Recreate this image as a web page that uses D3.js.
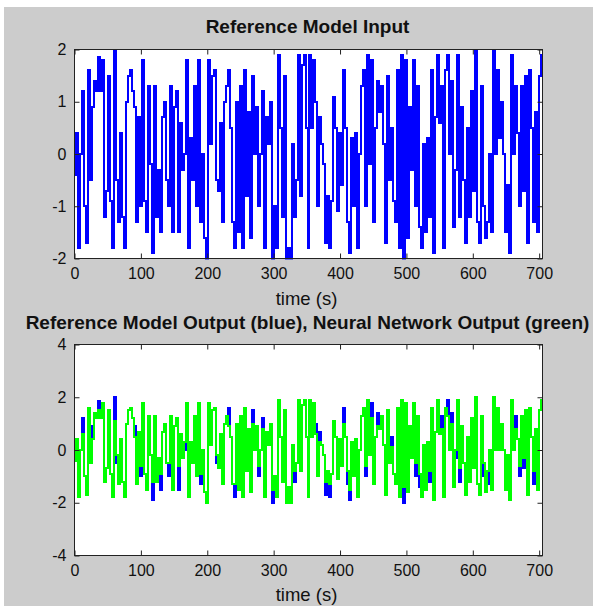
<!DOCTYPE html>
<html>
<head>
<meta charset="utf-8">
<script src="https://d3js.org/d3.v7.min.js"></script>
<style>
  body { margin: 0; background: white; }
  text { font-family: "Liberation Sans", Arial, sans-serif; fill: #111; }
</style>
</head>
<body>
<script>
const width = 593;
const height = 606;

// hold time of each level of the reference input (s)
const holdTime = 3;
const timeMax = 705;

const xTicks = [0, 100, 200, 300, 400, 500, 600, 700];
const yTicksTop = [-2, -1, 0, 1, 2];
const yTicksBottom = [-4, -2, 0, 2, 4];

// reference model input, one level per hold interval
const refInput = [
  -0.4, 0.4, -1.8, 0.0, 1.2, -1.0, -1.7, 1.6, -0.5, 0.9, 1.4, 1.2, 1.85, 1.2, 1.8, -1.2, -0.7, 1.5, -0.9, -1.8,
  2.0, -0.5, -1.3, 0.4, -1.2, -1.8, 1.0, 1.5, 1.6, 1.2, 0.9, -1.3, 0.7, -1.0, 1.8, -0.9, -1.5, 1.3, -0.2,
  -1.9, 1.3, -1.2, -0.3, -1.5, 0.7, 1.0, -0.5, -1.0, 1.3, -1.5, 0.9, 1.2, -1.5, 0.6, -0.3, 0.0, 1.8, -1.8, 0.3,
  -0.5, 1.3, -1.0, 1.8, -1.3, 0.0, -1.6, -2.0, 1.8, 0.2, 1.5, 1.6, -0.5, -0.7, 0.6, -1.3, 1.0, 1.3, 1.6,
  0.5, -1.3, -1.8, 1.0, -1.5, 1.3, -1.8, 1.6, -0.8, 0.8, -1.6, 1.5, 0.0, 0.9, -1.0, 0.0, 1.2, -1.8, 0.7, 0.2,
  1.0, -2.0, -1.0, -1.8, 1.9, 0.5, -1.2, 1.5, -2.0, -1.8, -2.0, 0.2, -1.2, -0.5, 1.9, -0.8, 1.7, 1.9, 0.5,
  -1.8, 1.9, 0.5, 1.8, 1.0, -1.0, 0.7, 0.2, -0.2, -1.7, -0.8, -1.8, -0.9, 1.1, 0.5, -1.1, 0.4, -0.6, 1.6, 0.5,
  -1.3, -1.9, 0.3, -1.0, 0.4, -1.8, 0.0, 1.3, 1.6, -1.0, 1.9, -0.2, 1.8, -1.3, 0.5, 1.4, 0.8, 1.3, 0.2,
  -1.7, 1.5, -0.5, 0.5, -0.9, -1.3, 1.6, -1.8, 1.9, -2.0, 1.8, -1.6, 0.9, -0.3, 1.8, -1.0, 1.3, -1.4, -1.8, 0.2,
  -1.5, 0.3, -1.2, 1.6, -1.9, 0.7, 1.9, 0.6, 1.3, -1.8, 1.6, 1.9, 0.0, 1.4, -1.4, -0.3, 1.9, -1.2, 0.9,
  -0.5, -1.7, 0.5, -1.2, 1.2, -0.7, 2.0, -1.3, -1.7, 1.3, -1.0, -1.6, -1.3, 0.0, -1.5, 2.0, 0.0, 1.6, 0.3, 1.0,
  0.0, -1.5, -0.6, -1.9, 1.9, 0.0, 1.3, 0.4, -1.0, 1.3, -0.7, 1.5, -1.7, 1.6, 0.5, -1.3, 0.8, -1.5, 1.5, 1.9
];

// reference model output (blue) follows the input levels
const refOutput = [
  -0.4, 0.4, -1.8, 0.0, 1.2, -1.0, -1.7, 1.6, -0.5, 0.9, 1.4, 1.2, 1.85, 1.2, 1.8, -1.2, -0.7, 1.5, -0.9, -1.8,
  2.0, -0.5, -1.3, 0.4, -1.2, -1.8, 1.0, 1.5, 1.6, 1.2, 0.9, -1.3, 0.7, -1.0, 1.8, -0.9, -1.5, 1.3, -0.2,
  -1.9, 1.3, -1.2, -0.3, -1.5, 0.7, 1.0, -0.5, -1.0, 1.3, -1.5, 0.9, 1.2, -1.5, 0.6, -0.3, 0.0, 1.8, -1.8, 0.3,
  -0.5, 1.3, -1.0, 1.8, -1.3, 0.0, -1.6, -2.0, 1.8, 0.2, 1.5, 1.6, -0.5, -0.7, 0.6, -1.3, 1.0, 1.3, 1.6,
  0.5, -1.3, -1.8, 1.0, -1.5, 1.3, -1.8, 1.6, -0.8, 0.8, -1.6, 1.5, 0.0, 0.9, -1.0, 0.0, 1.2, -1.8, 0.7, 0.2,
  1.0, -2.0, -1.0, -1.8, 1.9, 0.5, -1.2, 1.5, -2.0, -1.8, -2.0, 0.2, -1.2, -0.5, 1.9, -0.8, 1.7, 1.9, 0.5,
  -1.8, 1.9, 0.5, 1.8, 1.0, -1.0, 0.7, 0.2, -0.2, -1.7, -0.8, -1.8, -0.9, 1.1, 0.5, -1.1, 0.4, -0.6, 1.6, 0.5,
  -1.3, -1.9, 0.3, -1.0, 0.4, -1.8, 0.0, 1.3, 1.6, -1.0, 1.9, -0.2, 1.8, -1.3, 0.5, 1.4, 0.8, 1.3, 0.2,
  -1.7, 1.5, -0.5, 0.5, -0.9, -1.3, 1.6, -1.8, 1.9, -2.0, 1.8, -1.6, 0.9, -0.3, 1.8, -1.0, 1.3, -1.4, -1.8, 0.2,
  -1.5, 0.3, -1.2, 1.6, -1.9, 0.7, 1.9, 0.6, 1.3, -1.8, 1.6, 1.9, 0.0, 1.4, -1.4, -0.3, 1.9, -1.2, 0.9,
  -0.5, -1.7, 0.5, -1.2, 1.2, -0.7, 2.0, -1.3, -1.7, 1.3, -1.0, -1.6, -1.3, 0.0, -1.5, 2.0, 0.0, 1.6, 0.3, 1.0,
  0.0, -1.5, -0.6, -1.9, 1.9, 0.0, 1.3, 0.4, -1.0, 1.3, -0.7, 1.5, -1.7, 1.6, 0.5, -1.3, 0.8, -1.5, 1.5, 1.9
];

// neural network output (green), falls a little short at some steps
const nnOutput = [
  -0.4, 0.4, -1.8, 0.0, 0.6, -1.0, -1.7, 1.6, -0.5, 0.4, 1.4, 1.2, 1.5, 1.2, 1.8, -1.2, -0.7, 1.5, -0.9, -1.8,
  1.1, -0.2, -1.3, 0.4, -1.2, -1.8, 1.0, 1.5, 1.6, 1.2, 0.5, -1.3, 0.7, -0.6, 1.8, -0.9, -1.5, 1.3, -0.2,
  -1.2, 1.3, -1.2, -0.3, -0.9, 0.7, 1.0, -0.5, -0.5, 1.3, -1.5, 0.9, 1.2, -0.6, 0.6, -0.3, 0.3, 1.8, -1.8, 0.3,
  -0.5, 1.3, -1.0, 1.8, -0.9, 0.0, -1.6, -2.0, 1.8, 0.2, 1.5, 1.6, -0.2, -0.7, 0.6, -1.3, 1.0, 1.3, 0.9,
  0.5, -1.3, -1.3, 1.0, -1.5, 1.3, -1.8, 1.6, -0.8, 0.8, -1.6, 1.0, 0.0, 0.9, -0.6, 0.0, 0.8, -1.8, 0.7, 0.2,
  1.0, -1.5, -1.0, -1.8, 1.9, 0.5, -1.2, 1.5, -2.0, -1.4, -2.0, 0.2, -0.8, -0.5, 1.9, -0.8, 1.7, 1.9, 0.5,
  -1.8, 1.9, 0.5, 1.8, 0.6, -1.0, 0.3, 0.2, -0.2, -1.2, -0.8, -1.3, -0.9, 1.1, 0.5, -1.1, 0.4, -0.6, 1.0, 0.5,
  -0.8, -1.5, 0.3, -1.0, 0.4, -1.8, 0.0, 1.3, 1.6, -0.6, 1.9, -0.2, 1.2, -1.3, 0.5, 0.9, 0.8, 1.3, 0.2,
  -1.7, 1.5, -0.5, 0.1, -0.9, -1.3, 1.6, -1.8, 1.9, -1.4, 1.8, -1.6, 0.9, -0.3, 1.8, -0.5, 1.3, -0.9, -1.8, 0.2,
  -1.5, 0.3, -0.8, 1.6, -1.9, 0.7, 1.9, 0.6, 0.8, -1.8, 1.6, 1.3, 0.0, 1.0, -1.4, 0.0, 1.9, -0.7, 0.9,
  -0.5, -1.7, 0.5, -1.2, 1.2, -0.7, 2.0, -1.3, -1.7, 1.3, -0.5, -1.6, -0.8, 0.0, -1.5, 2.0, 0.0, 1.6, 0.0, 1.0,
  0.0, -1.5, -0.2, -1.9, 1.9, 0.0, 0.8, 0.4, -0.6, 1.3, -0.3, 1.5, -1.7, 1.6, 0.5, -0.8, 0.8, -1.5, 1.5, 1.9
];

const svg = d3
  .select("body")
  .append("svg")
  .attr("width", width)
  .attr("height", height);

svg.append("rect")
  .attr("x", 4)
  .attr("y", 7)
  .attr("width", width - 4)
  .attr("height", height - 7)
  .attr("fill", "#cccccc");

function toPoints(values) {
  const pts = values.map((v, i) => [i * holdTime, v]);
  pts.push([timeMax, values[values.length - 1]]);
  return pts;
}

function drawPanel(opts) {
  const x = d3.scaleLinear().domain([0, timeMax]).range([opts.left, opts.right]);
  const y = d3.scaleLinear().domain(opts.yDomain).range([opts.bottom, opts.top]);

  const g = svg.append("g");

  g.append("rect")
    .attr("x", opts.left)
    .attr("y", opts.top)
    .attr("width", opts.right - opts.left)
    .attr("height", opts.bottom - opts.top)
    .attr("fill", "white");

  g.append("clipPath")
    .attr("id", opts.id)
    .append("rect")
    .attr("x", opts.left)
    .attr("y", opts.top - 1)
    .attr("width", opts.right - opts.left)
    .attr("height", opts.bottom - opts.top + 2);

  // snap the stairs to whole pixels so overlapping lines stay clean
  const line = d3.line()
    .x(d => Math.round(x(d[0])))
    .y(d => Math.round(y(d[1])))
    .curve(d3.curveStepAfter);

  opts.series.forEach(s => {
    g.append("path")
      .datum(toPoints(s.values))
      .attr("clip-path", `url(#${opts.id})`)
      .attr("fill", "none")
      .attr("stroke", s.color)
      .attr("stroke-width", opts.lineWidth)
      .attr("d", line);
  });

  // inward ticks on all four sides, like a boxed matlab axes
  const tickLen = 5;
  const bottomAxis = d3.axisBottom(x).tickValues(xTicks).tickSizeInner(-tickLen).tickSizeOuter(0).tickPadding(9);
  const topAxis = d3.axisTop(x).tickValues(xTicks).tickSizeInner(-tickLen).tickSizeOuter(0).tickFormat("");
  const leftAxis = d3.axisLeft(y).tickValues(opts.yTicks).tickSizeInner(-tickLen).tickSizeOuter(0)
    .tickPadding(8).tickFormat(d3.format("d"));
  const rightAxis = d3.axisRight(y).tickValues(opts.yTicks).tickSizeInner(-tickLen).tickSizeOuter(0).tickFormat("");

  const axes = [
    g.append("g").attr("transform", `translate(0,${opts.bottom})`).call(bottomAxis),
    g.append("g").attr("transform", `translate(0,${opts.top})`).call(topAxis),
    g.append("g").attr("transform", `translate(${opts.left},0)`).call(leftAxis),
    g.append("g").attr("transform", `translate(${opts.right},0)`).call(rightAxis)
  ];
  axes.forEach(a => {
    a.select(".domain").remove();
    a.selectAll("line").attr("stroke", "#222");
    a.selectAll("text")
      .attr("font-family", "Liberation Sans, Arial, sans-serif")
      .attr("font-size", 16)
      .attr("fill", "#111")
      .text(function () { return d3.select(this).text().replace("\u2212", "-"); });
  });

  g.append("rect")
    .attr("x", opts.left)
    .attr("y", opts.top)
    .attr("width", opts.right - opts.left)
    .attr("height", opts.bottom - opts.top)
    .attr("fill", "none")
    .attr("stroke", "#222")
    .attr("stroke-width", 1);

  g.append("text")
    .attr("x", (opts.left + opts.right) / 2 - 1)
    .attr("y", opts.titleY)
    .attr("text-anchor", "middle")
    .attr("font-size", 19)
    .attr("font-weight", "bold")
    .text(opts.title);

  g.append("text")
    .attr("x", (opts.left + opts.right) / 2 - 2)
    .attr("y", opts.labelY)
    .attr("text-anchor", "middle")
    .attr("font-size", 18.5)
    .text("time (s)");
}

drawPanel({
  id: "clipTop",
  left: 74.5, right: 542.5, top: 49.5, bottom: 258.5,
  yDomain: [-2, 2],
  yTicks: yTicksTop,
  lineWidth: 2,
  series: [{ values: refInput, color: "#0000ff" }],
  title: "Reference Model Input",
  titleY: 33,
  labelY: 305
});

drawPanel({
  id: "clipBottom",
  left: 74.5, right: 542.5, top: 344.5, bottom: 555.5,
  yDomain: [-4, 4],
  yTicks: yTicksBottom,
  lineWidth: 2,
  series: [
    { values: refOutput, color: "#0000ff" },
    { values: nnOutput, color: "#00ff00" }
  ],
  title: "Reference Model Output (blue), Neural Network Output (green)",
  titleY: 329,
  labelY: 601
});
</script>
</body>
</html>
